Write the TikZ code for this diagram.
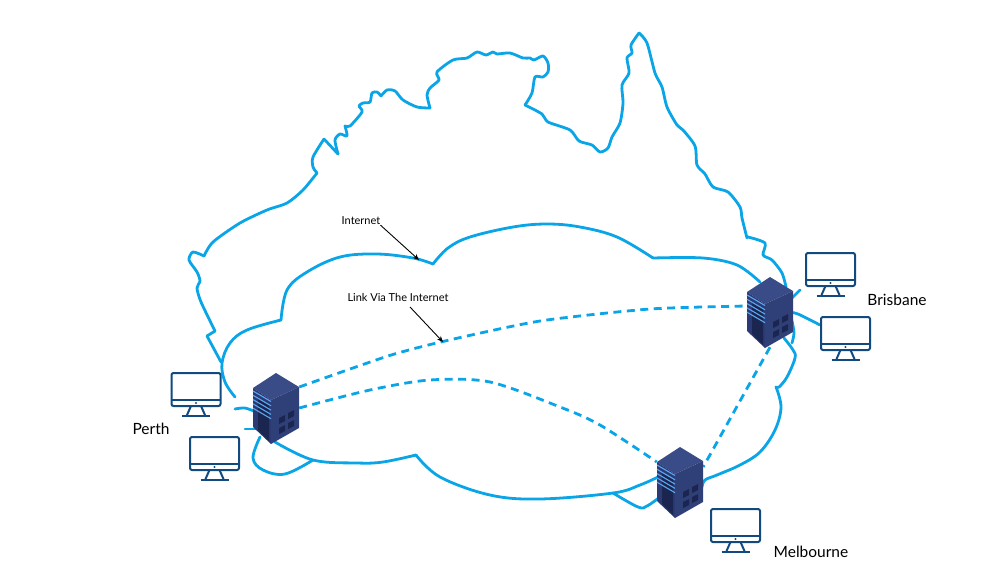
\documentclass[tikz,border=0pt]{standalone}
\usepackage{fontspec}
\setmainfont{Lato}
\usetikzlibrary{arrows.meta}
\definecolor{netblue}{HTML}{0AA5E6}
\definecolor{monblue}{HTML}{12497F}
\definecolor{srvtop}{HTML}{3A4C88}
\definecolor{srvleft}{HTML}{2B3A75}
\definecolor{srvright}{HTML}{2F3F78}
\definecolor{srvdark}{HTML}{1B2650}
\definecolor{srvled}{HTML}{5BA8F2}
\tikzset{
  net/.style={draw=netblue,line width=2.8pt,line cap=round,line join=round},
  linkline/.style={draw=netblue,line width=2.8pt,dash pattern=on 8pt off 5.5pt},
  srvbox/.style={inner sep=0pt,minimum width=46pt,minimum height=70pt},
  callout/.style={draw=black,line width=.9pt,-{Stealth[length=6pt,width=5pt]}},
  small/.style={font=\fontsize{11}{13}\selectfont,inner sep=0pt},
  city/.style={font=\fontsize{15.5}{18}\selectfont,inner sep=0pt},
  server/.pic={
    \fill[srvtop] (0,-35) -- (23,-21) -- (-5,-8) -- (-23,-20) -- cycle;
    \fill[srvleft] (-23,-20) -- (-5,-8) -- (-5,36) -- (-23,19) -- cycle;
    \fill[srvright] (-5,-8) -- (23,-21) -- (23,20) -- (-5,36) -- cycle;
    \fill[srvdark] (-18,-9) -- (-7,-3) -- (-7,33) -- (-18,22) -- cycle;
    \foreach \k in {0,...,4}
      \draw[srvled,line width=1.1pt] (-23,-17+\k*4.3) -- (-5,-6.5+\k*4.3);
    \foreach \wx/\wy in {3/26,12/21,3/16,12/11}
      \fill[srvdark] (\wx,\wy) -- (\wx+6,\wy-3) -- (\wx+6,\wy-9) -- (\wx,\wy-6) -- cycle;
  },
  monitor/.pic={
    \draw[monblue,line width=2pt,rounded corners=2pt] (-24.5,-22) rectangle (24.5,11);
    \draw[monblue,line width=2pt] (-24.5,5) -- (24.5,5);
    \fill[monblue] (0,8) circle[radius=1.1];
    \draw[monblue,line width=2pt] (-5,11) -- (-9,20) (5,11) -- (9,20);
    \draw[monblue,line width=2pt] (-14,21) -- (14,21);
  }
}
\begin{document}
\begin{tikzpicture}[x=1pt,y=-1pt]
\useasboundingbox (0,0) rectangle (987,573);
\node[srvbox] (srvperth) at (276,408) {};
\node[srvbox] (srvbris) at (770,312) {};
\node[srvbox] (srvmelb) at (680,482) {};
% Coast of the continent
\draw[net] plot[smooth,tension=.45] coordinates {(221,362) (207,336)};
\draw[net] (207,336) -- (215,331);
\draw[net] plot[smooth,tension=.45] coordinates {(215,331) (201,302) (197,288) (200,281) (197,272) (189,260) (193,252) (204,256)};
\draw[net] plot[smooth,tension=.45] coordinates {(204,256) (213,242) (240,223) (267,210) (287,203) (303,190) (317,173)};
\draw[net] plot[smooth,tension=.45] coordinates {(317,173) (313,167) (313,157) (324,139)};
\draw[net] (324,139) -- (338,154);
\draw[net] plot[smooth,tension=.45] coordinates {(338,154) (335,140) (340,134) (347,136) (345,126)};
\draw[net] plot[smooth,tension=.45] coordinates {(345,126) (350,126) (362,112) (359,106) (363,103) (370,102) (372,93) (377,92) (381,96)};
\draw[net] plot[smooth,tension=.45] coordinates {(381,96) (387,90) (395,91) (403,100) (417,107) (430,108)};
\draw[net] plot[smooth,tension=.45] coordinates {(430,108) (427,95) (430,88) (439,80) (437,72) (453,60) (467,58) (477,52) (486,55) (493,52) (497,54) (510,53) (523,58) (530,58) (534,60) (543,56) (548,63) (548,72) (543,77) (535,77) (532,93) (525,105)};
\draw[net] plot[smooth,tension=.45] coordinates {(525,105) (542,114) (548,122) (570,130) (579,141) (592,145) (600,152) (608,148) (612,137) (620,123) (623,103) (622,85) (629,73) (627,58) (632,53) (631,45) (639,33)};
\draw[net] plot[smooth,tension=.45] coordinates {(639,33) (647,43) (655,73) (662,87) (667,107) (677,125) (683,130) (695,146) (697,165) (705,174) (713,187) (728,192) (740,207) (742,218) (747,238)};
\draw[net] plot[smooth,tension=.45] coordinates {(748,237) (765,243) (763,255) (772,260) (782,273) (786,287)};
% Cloud
\draw[net] plot[smooth,tension=.55] coordinates {(760,282) (737,265) (703,258) (653,258)};
\draw[net] plot[smooth,tension=.6] coordinates {(653,258) (617,237) (580,227) (547,224) (513,227) (470,237) (448,248) (433,264)};
\draw[net] plot[smooth,tension=.6] coordinates {(433,264) (413,258) (377,254) (340,257) (307,272) (287,290) (281,320)};
\draw[net] plot[smooth,tension=.6] coordinates {(281,320) (247,330) (230,343) (222,363) (225,382) (235,397)};
\draw[net] plot[smooth,tension=.6] coordinates {(275,442) (313,460) (357,463) (383,462) (416,455)};
\draw[net] plot[smooth,tension=.6] coordinates {(416,455) (440,477) (490,495) (540,499) (613,493) (640,485) (660,476)};
\draw[net] plot[smooth,tension=.6] coordinates {(702,487) (705,480) (717,475) (740,465) (760,452) (775,430) (781,407) (776,387)};
\draw[net] plot[smooth,tension=.6] coordinates {(776,387) (779,387) (787,377) (795,358) (793,350) (784,338)};
% Short runs next to the servers
\draw[net] plot[smooth,tension=.5] coordinates {(235,409) (245,408) (256,412)};
\draw[net] (245,429) -- (256,429);
\draw[net] plot[smooth,tension=.6] coordinates {(260,437) (253,458) (263,470) (285,474) (313,460)};
\draw[net] plot[smooth,tension=.6] coordinates {(613,493) (638,507) (647,506) (660,497)};
\draw[net] (790,300) -- (800,290);
\draw[net] plot[smooth,tension=.5] coordinates {(788,312) (798,314) (820,325)};
\draw[net] plot[smooth,tension=.5] coordinates {(792,321) (794,333) (792,343)};
% Links between the servers
\draw[linkline] plot[smooth,tension=.4] coordinates {([yshift=21pt]srvperth.east) (388,356) (445,341) (540,321) (650,309) ([yshift=6pt]srvbris.west)};
\draw[linkline] plot[smooth,tension=.5] coordinates {(srvperth.east) (370,390) (430,380) (490,382) (560,407) (600,425) ([yshift=20pt]srvmelb.west)};
\draw[linkline] (srvbris.south) -- ([yshift=15pt]srvmelb.east);
% Servers and desktops
\pic at (srvperth) {server};
\pic at (srvbris) {server};
\pic at (srvmelb) {server};
\pic at (196,395) {monitor};
\pic at (214.5,459) {monitor};
\pic at (830.5,275) {monitor};
\pic at (845.5,339) {monitor};
\pic at (735.5,531) {monitor};
% Labels
\node[small] (lblinternet) at (361,221) {Internet};
\node[small] (lbllink) at (398,297) {Link Via The Internet};
\node[city] (lblperth) at (151,429) {Perth};
\node[city] (lblbris) at (897,300) {Brisbane};
\node[city] (lblmelb) at (811,552) {Melbourne};
\coordinate (tipinternet) at (419,260);
\coordinate (tiplink) at (443,342);
\draw[callout] (lblinternet.south east) -- (tipinternet);
\draw[callout] (410,307) -- (tiplink);
\end{tikzpicture}
\end{document}
